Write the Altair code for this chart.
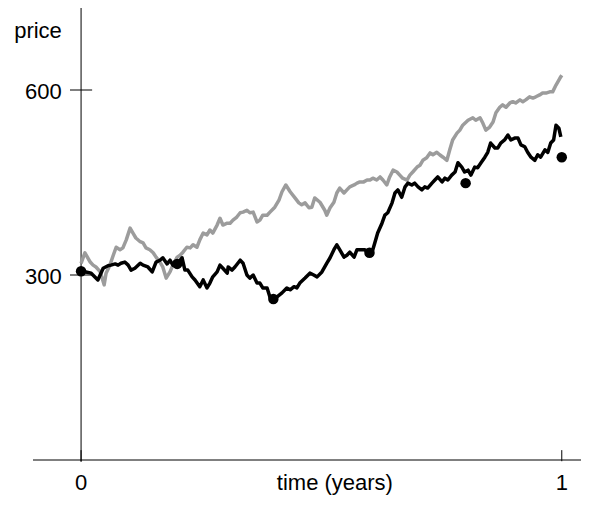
import altair as alt
import pandas as pd

# ---- data ----
gray_t = [0, 0.008, 0.019, 0.025, 0.031, 0.040, 0.048, 0.052, 0.060, 0.067, 0.073, 0.081, 0.087, 0.094,
          0.102, 0.108, 0.114, 0.123, 0.129, 0.135, 0.143, 0.150, 0.156, 0.164, 0.170, 0.177, 0.185, 0.191,
          0.200, 0.206, 0.212, 0.220, 0.227, 0.233, 0.241, 0.247, 0.254, 0.262, 0.268, 0.274, 0.283, 0.289,
          0.295, 0.304, 0.310, 0.316, 0.324, 0.331, 0.337, 0.345, 0.351, 0.358, 0.366, 0.372, 0.378, 0.387,
          0.393, 0.403, 0.412, 0.418, 0.426, 0.435, 0.445, 0.453, 0.459, 0.466, 0.474, 0.480, 0.486, 0.497,
          0.507, 0.511, 0.518, 0.526, 0.532, 0.538, 0.547, 0.553, 0.559, 0.568, 0.574, 0.580, 0.588, 0.595,
          0.601, 0.607, 0.615, 0.622, 0.628, 0.636, 0.642, 0.649, 0.657, 0.663, 0.669, 0.678, 0.684, 0.690,
          0.699, 0.705, 0.711, 0.719, 0.726, 0.732, 0.740, 0.746, 0.753, 0.761, 0.767, 0.773, 0.782, 0.788,
          0.794, 0.805, 0.815, 0.821, 0.830, 0.836, 0.842, 0.850, 0.857, 0.863, 0.871, 0.877, 0.884, 0.892,
          0.898, 0.904, 0.913, 0.919, 0.925, 0.933, 0.940, 0.946, 0.954, 0.960, 0.967, 0.975, 0.981, 0.988,
          0.996, 1.000]
gray_price = [319, 336, 321, 316, 313, 305, 284, 303, 316, 332, 345, 341, 344, 357,
              376, 368, 360, 354, 352, 344, 341, 336, 329, 321, 313, 295, 305, 316,
              329, 332, 337, 345, 344, 349, 345, 357, 368, 365, 373, 368, 381, 392,
              381, 384, 384, 389, 394, 401, 402, 405, 401, 402, 386, 389, 397, 397,
              402, 410, 422, 435, 446, 435, 425, 417, 414, 417, 409, 410, 425, 418,
              405, 397, 409, 418, 433, 441, 433, 438, 443, 446, 449, 451, 451, 454,
              454, 457, 454, 459, 454, 446, 459, 470, 467, 462, 457, 454, 462, 467,
              475, 478, 486, 490, 498, 495, 499, 495, 491, 486, 503, 519, 530, 535,
              543, 551, 555, 551, 555, 546, 535, 540, 548, 563, 572, 576, 572, 579,
              581, 579, 584, 581, 584, 589, 587, 589, 592, 595, 595, 597, 597, 608,
              619, 624]

black_t = [0, 0.010, 0.021, 0.035, 0.046, 0.056, 0.062, 0.071, 0.077, 0.083, 0.091, 0.098, 0.104, 0.112,
           0.123, 0.129, 0.139, 0.148, 0.156, 0.164, 0.170, 0.179, 0.185, 0.191, 0.200, 0.210, 0.216, 0.222,
           0.231, 0.237, 0.247, 0.254, 0.262, 0.268, 0.274, 0.283, 0.289, 0.295, 0.304, 0.306, 0.314, 0.320,
           0.331, 0.337, 0.345, 0.351, 0.358, 0.366, 0.372, 0.378, 0.387, 0.393, 0.399, 0.407, 0.418, 0.428,
           0.435, 0.443, 0.449, 0.455, 0.466, 0.476, 0.484, 0.491, 0.501, 0.511, 0.518, 0.526, 0.532, 0.538,
           0.547, 0.553, 0.559, 0.568, 0.574, 0.580, 0.590, 0.599, 0.605, 0.611, 0.617, 0.626, 0.632, 0.638,
           0.647, 0.653, 0.659, 0.667, 0.674, 0.680, 0.688, 0.694, 0.701, 0.709, 0.715, 0.721, 0.730, 0.736,
           0.742, 0.751, 0.757, 0.763, 0.771, 0.778, 0.784, 0.792, 0.798, 0.805, 0.811, 0.819, 0.825, 0.832,
           0.840, 0.846, 0.852, 0.861, 0.867, 0.873, 0.881, 0.888, 0.894, 0.902, 0.909, 0.915, 0.923, 0.929,
           0.936, 0.944, 0.950, 0.956, 0.965, 0.971, 0.977, 0.983, 0.988, 0.994, 0.998]
black_price = [306, 305, 303, 292, 311, 315, 316, 318, 316, 319, 321, 316, 308, 311,
               319, 316, 313, 305, 321, 324, 328, 318, 324, 316, 318, 328, 308, 308,
               297, 292, 281, 292, 279, 287, 297, 305, 316, 311, 303, 313, 308, 313,
               324, 319, 300, 295, 300, 287, 287, 279, 279, 264, 259, 264, 271, 279,
               276, 281, 279, 287, 295, 303, 300, 297, 305, 319, 328, 341, 349, 341,
               329, 332, 337, 329, 341, 341, 341, 336, 336, 352, 368, 384, 397, 401,
               417, 433, 438, 426, 443, 449, 446, 449, 443, 438, 443, 441, 449, 454,
               459, 451, 457, 454, 462, 467, 482, 475, 467, 470, 462, 475, 474, 482,
               491, 499, 514, 506, 506, 514, 519, 527, 519, 522, 522, 511, 508, 499,
               491, 486, 495, 491, 503, 499, 514, 519, 543, 538, 524]

dot_t = [0, 0.2, 0.4, 0.6, 0.8, 1.0]
dot_price = [306, 318, 261, 336, 449, 491]

x_ticks = [0, 1]
x_tick_labels = ["0", "1"]
y_ticks = [300, 600]
y_tick_labels = ["300", "600"]
x_title = "time (years)"
y_title = "price"

# ---- build tables ----
gray_df = pd.DataFrame({"t": gray_t, "price": gray_price})
black_df = pd.DataFrame({"t": black_t, "price": black_price})
dots_df = pd.DataFrame({"t": dot_t, "price": dot_price})

X0, X1 = -0.1, 1.04
Y0, Y1 = 0, 733
xs = alt.Scale(domain=[X0, X1], nice=False, zero=False)
ys = alt.Scale(domain=[Y0, Y1], nice=False, zero=False)

FONT = "Liberation Sans"
FS = 22

def X(f):
    return alt.X(f, type="quantitative", scale=xs, axis=None)

def Y(f):
    return alt.Y(f, type="quantitative", scale=ys, axis=None)

# axis lines
axes_df = pd.DataFrame({
    "x0": [X0, 0],
    "x1": [X1, 0],
    "y0": [0, -3],
    "y1": [0, Y1],
})
axes = alt.Chart(axes_df).mark_rule(color="black", strokeWidth=1).encode(
    x=X("x0"), x2="x1", y=Y("y0"), y2="y1")

# y ticks cross the axis, x ticks rise above it
ytick_df = pd.DataFrame({"y": y_ticks, "x0": [-0.023] * len(y_ticks), "x1": [0.023] * len(y_ticks)})
yticks = alt.Chart(ytick_df).mark_rule(color="black", strokeWidth=1).encode(
    x=X("x0"), x2="x1", y=Y("y"))
xtick_df = pd.DataFrame({"x": x_ticks, "y0": [-2] * len(x_ticks), "y1": [16] * len(x_ticks)})
xticks = alt.Chart(xtick_df).mark_rule(color="black", strokeWidth=1).encode(
    x=X("x"), y=Y("y0"), y2="y1")

ylab_df = pd.DataFrame({"y": y_ticks, "label": y_tick_labels, "x": [-0.04] * len(y_ticks)})
ylabels = alt.Chart(ylab_df).mark_text(
    align="right", baseline="middle", font=FONT, fontSize=FS, dy=2, color="black"
).encode(x=X("x"), y=Y("y"), text="label:N")

xlab_df = pd.DataFrame({"x": x_ticks + [0.528], "label": x_tick_labels + [x_title], "y": [-37] * 3})
xlabels = alt.Chart(xlab_df).mark_text(
    align="center", baseline="middle", font=FONT, fontSize=FS, color="black"
).encode(x=X("x"), y=Y("y"), text="label:N")

ytitle_df = pd.DataFrame({"x": [-0.04], "y": [684], "label": [y_title]})
ytitle = alt.Chart(ytitle_df).mark_text(
    align="right", baseline="alphabetic", font=FONT, fontSize=FS, color="black"
).encode(x=X("x"), y=Y("y"), text="label:N")

gray = alt.Chart(gray_df).mark_line(color="#9c9c9c", strokeWidth=3.5, strokeJoin="round").encode(
    x=X("t"), y=Y("price"), order="t:Q")
black = alt.Chart(black_df).mark_line(color="black", strokeWidth=3.5, strokeJoin="round").encode(
    x=X("t"), y=Y("price"), order="t:Q")
dots = alt.Chart(dots_df).mark_circle(color="black", size=110, opacity=1).encode(
    x=X("t"), y=Y("price"))

chart = alt.layer(axes, yticks, xticks, ylabels, xlabels, ytitle, gray, black, dots).properties(
    width=548, height=452,
    autosize=alt.AutoSizeParams(type="none"),
    padding={"left": 25, "top": 0, "right": 11, "bottom": 38},
).configure_view(stroke=None)

chart.save("out.html", embed_options={"renderer": "svg", "actions": False})
